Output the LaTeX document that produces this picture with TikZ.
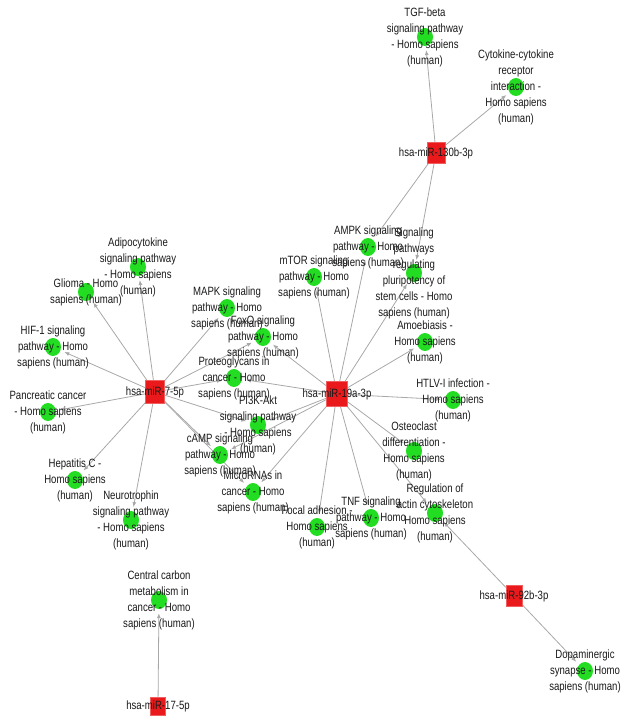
\documentclass[tikz,border=0pt]{standalone}
\usepackage{fontspec}
\setmainfont{Liberation Sans}[FakeStretch=0.8]
\usetikzlibrary{arrows.meta,backgrounds,shapes.geometric}
\definecolor{mirred}{HTML}{EA1A1C}
\definecolor{pathgreen}{HTML}{22DD22}
\definecolor{edgegray}{HTML}{A8A8A8}
\definecolor{ink}{HTML}{1A1A1A}

\begin{document}
\begin{tikzpicture}[x=1pt,y=-1pt,>={Latex[length=5pt,width=4pt]},
mirna/.style={rectangle,fill=mirred,draw=mirred!70!white,inner sep=0pt},
pathway/.style={ellipse,fill=pathgreen,minimum width=16pt,minimum height=18pt,inner sep=0pt},
txt/.style={align=center,inner sep=0pt,text=ink,font=\fontsize{12}{16}\selectfont},
link/.style={->,edgegray,line width=0.8pt,shorten >=4pt}]
 \useasboundingbox (0,0) rectangle (625,721);
 \node[mirna,minimum width=18pt,minimum height=21pt] (mir130b) at (436,153) {};
 \node[mirna,minimum width=19pt,minimum height=23pt] (mir7) at (155,392) {};
 \node[mirna,minimum width=21pt,minimum height=25pt] (mir19a) at (337,394) {};
 \node[mirna,minimum width=16pt,minimum height=21pt] (mir92b) at (514,596) {};
 \node[mirna,minimum width=15pt,minimum height=18pt] (mir17) at (158,706) {};
 \node[pathway] (tgf) at (425,37) {};
 \node[pathway] (cytokine) at (516,87) {};
 \node[pathway] (adipo) at (138,267) {};
 \node[pathway] (glioma) at (86,292) {};
 \node[pathway] (hif) at (53,347) {};
 \node[pathway] (pancreas) at (48,412) {};
 \node[pathway] (hepc) at (75,480) {};
 \node[pathway] (neuro) at (131,520) {};
 \node[pathway] (mapk) at (227,308) {};
 \node[pathway] (foxo) at (263,337) {};
 \node[pathway] (proteo) at (234,378) {};
 \node[pathway] (pi3k) at (258,425) {};
 \node[pathway] (camp) at (220,455) {};
 \node[pathway] (micrornas) at (253,492) {};
 \node[pathway] (mtor) at (314,277) {};
 \node[pathway] (ampk) at (368,247) {};
 \node[pathway] (pluri) at (414,273) {};
 \node[pathway] (amoeba) at (425,342) {};
 \node[pathway] (htlv) at (453,400) {};
 \node[pathway] (osteo) at (414,451) {};
 \node[pathway] (actin) at (435,513) {};
 \node[pathway] (tnf) at (371,518) {};
 \node[pathway] (focal) at (317,527) {};
 \node[pathway] (dopa) at (585,671) {};
 \node[pathway] (carbon) at (159,600) {};

 \node[txt] (mir130b-t) at (mir130b) {hsa-miR-130b-3p};
 \node[txt] (mir7-t) at (mir7) {hsa-miR-7-5p};
 \node[txt] (mir19a-t) at (mir19a) {hsa-miR-19a-3p};
 \node[txt] (mir92b-t) at (mir92b) {hsa-miR-92b-3p};
 \node[txt] (mir17-t) at (mir17) {hsa-miR-17-5p};
 \node[txt] (tgf-t) at (tgf) {TGF-beta\\signaling pathway\\- Homo sapiens\\(human)};
 \node[txt] (cytokine-t) at (cytokine) {Cytokine-cytokine\\receptor\\interaction -\\Homo sapiens\\(human)};
 \node[txt] (adipo-t) at (adipo) {Adipocytokine\\signaling pathway\\- Homo sapiens\\(human)};
 \node[txt] (glioma-t) at (glioma) {Glioma - Homo\\sapiens (human)};
 \node[txt] (hif-t) at (hif) {HIF-1 signaling\\pathway - Homo\\sapiens (human)};
 \node[txt] (pancreas-t) at (pancreas) {Pancreatic cancer\\- Homo sapiens\\(human)};
 \node[txt] (hepc-t) at (hepc) {Hepatitis C -\\Homo sapiens\\(human)};
 \node[txt] (neuro-t) at (neuro) {Neurotrophin\\signaling pathway\\- Homo sapiens\\(human)};
 \node[txt] (mapk-t) at (mapk) {MAPK signaling\\pathway - Homo\\sapiens (human)};
 \node[txt] (foxo-t) at (foxo) {FoxO signaling\\pathway - Homo\\sapiens (human)};
 \node[txt] (proteo-t) at (proteo) {Proteoglycans in\\cancer - Homo\\sapiens (human)};
 \node[txt] (pi3k-t) at (pi3k) {PI3K-Akt\\signaling pathway\\- Homo sapiens\\(human)};
 \node[txt] (camp-t) at (camp) {cAMP signaling\\pathway - Homo\\sapiens (human)};
 \node[txt] (micrornas-t) at (micrornas) {MicroRNAs in\\cancer - Homo\\sapiens (human)};
 \node[txt] (mtor-t) at (mtor) {mTOR signaling\\pathway - Homo\\sapiens (human)};
 \node[txt] (ampk-t) at (ampk) {AMPK signaling\\pathway - Homo\\sapiens (human)};
 \node[txt] (pluri-t) at (pluri) {Signaling\\pathways\\regulating\\pluripotency of\\stem cells - Homo\\sapiens (human)};
 \node[txt] (amoeba-t) at (amoeba) {Amoebiasis -\\Homo sapiens\\(human)};
 \node[txt] (htlv-t) at (htlv) {HTLV-I infection -\\Homo sapiens\\(human)};
 \node[txt] (osteo-t) at (osteo) {Osteoclast\\differentiation -\\Homo sapiens\\(human)};
 \node[txt] (actin-t) at (actin) {Regulation of\\actin cytoskeleton\\Homo sapiens\\(human)};
 \node[txt] (tnf-t) at (tnf) {TNF signaling\\pathway - Homo\\sapiens (human)};
 \node[txt] (focal-t) at (focal) {Focal adhesion -\\Homo sapiens\\(human)};
 \node[txt] (dopa-t) at (dopa) {Dopaminergic\\synapse - Homo\\sapiens (human)};
 \node[txt] (carbon-t) at (carbon) {Central carbon\\metabolism in\\cancer - Homo\\sapiens (human)};

 \begin{scope}[on background layer]
 \draw[link] (mir130b) -- (tgf);
 \draw[link] (mir130b) -- (cytokine);
 \draw[link] (mir130b) -- (ampk);
 \draw[link] (mir130b) -- (pluri);
 \draw[link] (mir7) -- (adipo);
 \draw[link] (mir7) -- (glioma);
 \draw[link] (mir7) -- (hif);
 \draw[link] (mir7) -- (pancreas);
 \draw[link] (mir7) -- (hepc);
 \draw[link] (mir7) -- (neuro);
 \draw[link] (mir7) -- (mapk);
 \draw[link] (mir7) -- (foxo);
 \draw[link] (mir7) -- (proteo);
 \draw[link] (mir7) -- (pi3k);
 \draw[link] (mir7) -- (camp);
 \draw[link] (mir7) -- (micrornas);
 \draw[link] (mir19a) -- (mtor);
 \draw[link] (mir19a) -- (ampk);
 \draw[link] (mir19a) -- (pluri);
 \draw[link] (mir19a) -- (amoeba);
 \draw[link] (mir19a) -- (htlv);
 \draw[link] (mir19a) -- (osteo);
 \draw[link] (mir19a) -- (actin);
 \draw[link] (mir19a) -- (tnf);
 \draw[link] (mir19a) -- (focal);
 \draw[link] (mir19a) -- (micrornas);
 \draw[link] (mir19a) -- (camp);
 \draw[link] (mir19a) -- (pi3k);
 \draw[link] (mir19a) -- (proteo);
 \draw[link] (mir19a) -- (foxo);
 \draw[link] (mir92b) -- (actin);
 \draw[link] (mir92b) -- (dopa);
 \draw[link] (mir17) -- (carbon);
 \end{scope}
\end{tikzpicture}
\end{document}
